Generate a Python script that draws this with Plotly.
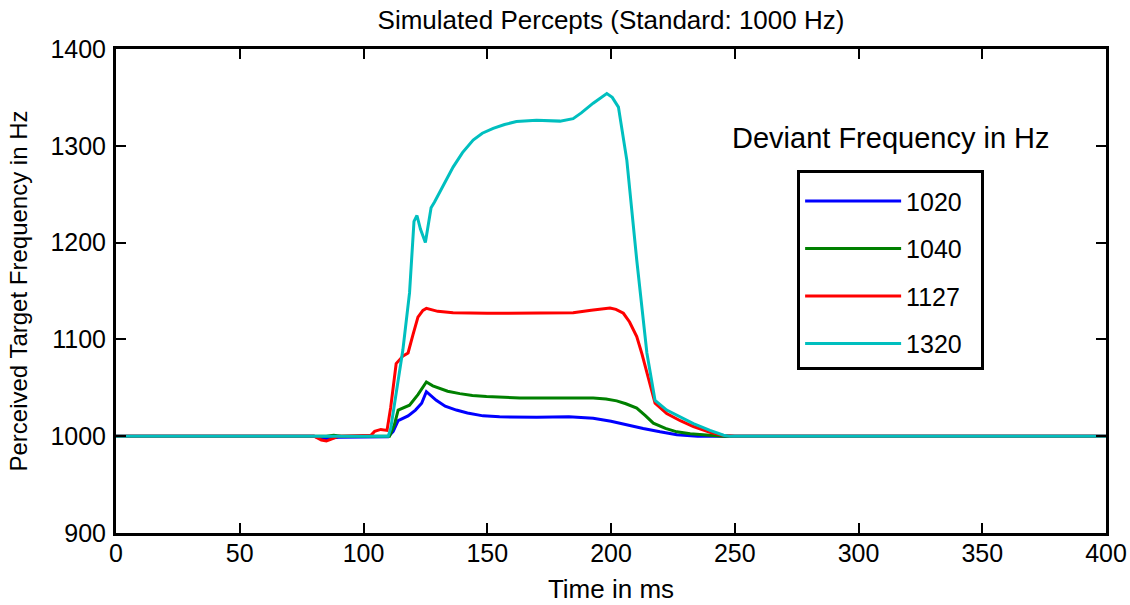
import plotly.graph_objects as go

# Deviant frequencies (legend labels)
deviants = ["1020", "1040", "1127", "1320"]
colors = ["#0000FF", "#008000", "#FF0000", "#00BFBF"]

# Time (ms) and perceived frequency (Hz) for each deviant
t_1020 = [0, 80, 84, 87, 90, 110, 112, 114, 118, 121, 123.5, 125.4, 127, 129.4, 133, 137.5, 142, 148.3,
          155, 162, 170, 183, 192.8, 200, 206.4, 213, 219.8, 226.6, 235, 400]
v_1020 = [1000, 1000, 997.5, 998, 999, 999.5, 1005, 1016, 1021, 1027, 1034, 1046, 1042, 1037, 1031, 1027, 1024, 1021,
          1020, 1019.5, 1019.5, 1020, 1018.5, 1015.5, 1011.5, 1008, 1004.5, 1001.5, 1000, 1000]

t_1040 = [0, 85, 88, 91, 110.5, 112.5, 114, 118.6, 122, 125.4, 128, 130.8, 134, 138.9, 144, 149.7, 156, 163.2,
          180, 192.8, 198, 202.3, 206, 210.4, 214, 217.1, 222, 226.6, 232, 240, 245, 400]
v_1040 = [1000, 1000, 1001, 1000, 1000, 1012, 1027, 1032, 1043, 1056, 1052, 1049.5, 1046.5, 1044, 1042, 1041, 1040, 1039.5,
          1039.5, 1039.5, 1038.5, 1036.5, 1033.5, 1029, 1021, 1013.5, 1008, 1004.5, 1002.5, 1001, 1000, 1000]

t_1127 = [0, 80, 83, 85, 87, 90, 103, 104.5, 107, 109.5, 111, 113.2, 116, 118, 120, 122, 124, 125.4, 130, 136.2,
          150, 170, 184.7, 192, 199.6, 202, 205, 207.5, 210.4, 212.5, 214.5, 217.8, 222.5, 228, 233.3, 240, 245,
          250, 400]
v_1127 = [1000, 1000, 996, 995, 997, 1000, 1001, 1005, 1007, 1006, 1030, 1075, 1083, 1086, 1105, 1123, 1130, 1132, 1129, 1127.5,
          1127, 1127, 1127.5, 1130, 1132.5, 1131, 1127, 1118, 1103, 1085, 1065, 1034, 1023.5, 1016, 1010, 1004, 1001,
          1000, 1000]

t_1320 = [0, 110, 111, 113, 115.9, 118.6, 120.4, 121.6, 123, 125, 127.3, 128.7, 132, 136.2, 140, 144.3, 148, 152.4,
          157, 161.8, 169.9, 179.4, 184.7, 188, 192.8, 196, 198.3, 200.5, 203, 206.4, 210.4, 214.5, 217.8, 222.5,
          228, 233.3, 240, 245.5, 248, 400]
v_1320 = [1000, 1000, 1008, 1040, 1089, 1148, 1222, 1228, 1214, 1200, 1236, 1242, 1258, 1278, 1293, 1306, 1313, 1318,
          1322, 1325, 1326.5, 1325.5, 1328, 1334, 1344, 1350, 1354, 1350, 1340, 1285, 1182, 1086, 1037, 1027,
          1020, 1013, 1006, 1001, 1000, 1000]

x_ticks = [0, 50, 100, 150, 200, 250, 300, 350, 400]
y_ticks = [900, 1000, 1100, 1200, 1300, 1400]

series_t = [t_1020, t_1040, t_1127, t_1320]
series_v = [v_1020, v_1040, v_1127, v_1320]

FONT = "Liberation Sans, Arial, sans-serif"
PAD = "\u00a0\u00a0"  # trailing space inside the legend box

fig = go.Figure()
for name, col, tt, vv in zip(deviants, colors, series_t, series_v):
    fig.add_trace(go.Scatter(x=tt, y=vv, mode="lines", name=name + PAD, legendgroup=name,
                             line=dict(color=col, width=3)))

axis_common = dict(showline=True, linecolor="black", linewidth=3, mirror="ticks",
                   ticks="inside", ticklen=10, tickwidth=2, tickcolor="black",
                   showgrid=False, zeroline=False, automargin=False,
                   tickfont=dict(family=FONT, size=25, color="black"))

fig.update_xaxes(range=[0, 400], tickvals=x_ticks, title_text="Time in ms", title_standoff=14,
                 ticklabelstandoff=-4,
                 title_font=dict(family=FONT, size=26, color="black"), **axis_common)
fig.update_yaxes(range=[900, 1400], tickvals=y_ticks, title_text="Perceived Target Frequency in Hz",
                 title_standoff=16, ticklabelstandoff=2,
                 title_font=dict(family=FONT, size=24, color="black"), **axis_common)

fig.add_annotation(text="Deviant Frequency in Hz", xref="paper", yref="paper", x=0.7826, y=0.816,
                   xanchor="center", yanchor="middle", showarrow=False,
                   font=dict(family=FONT, size=29, color="black"))

fig.update_layout(
    width=1130, height=605,
    margin=dict(l=116, r=24, t=49, b=72),
    paper_bgcolor="white", plot_bgcolor="white",
    title=dict(text="Simulated Percepts (Standard: 1000 Hz)", x=0.5, xref="paper", xanchor="center",
               y=1 - 20 / 605, yanchor="middle", font=dict(family=FONT, size=26, color="black")),
    legend=dict(x=0.688, y=0.75, xanchor="left", yanchor="top",
                bgcolor="white", bordercolor="black", borderwidth=3,
                font=dict(family=FONT, size=25, color="black"),
                title=dict(text="\u00a0", font=dict(family=FONT, size=4)),
                traceorder="grouped", tracegroupgap=12, itemwidth=96),
    showlegend=True,
)

# remove the default page margin so the 1130x605 figure fills the window exactly
fig.write_html("out.html", config={"displayModeBar": False},
               post_script="document.body.style.margin='0px';document.body.style.overflow='hidden';")
